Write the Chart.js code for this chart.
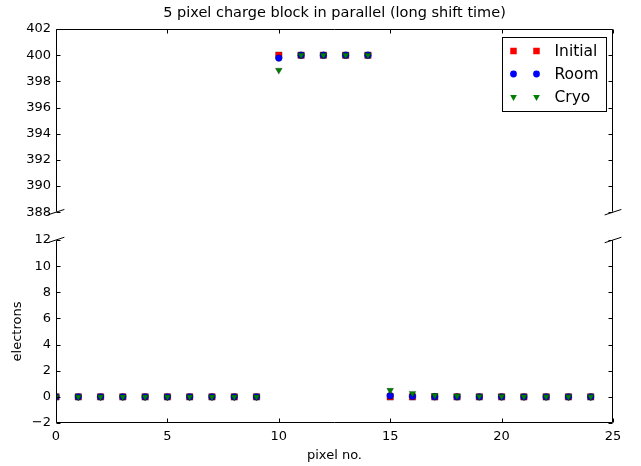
<!DOCTYPE html>
<html>
<head>
<meta charset="utf-8">
<script src="https://cdn.jsdelivr.net/npm/chart.js@4/dist/chart.umd.min.js"></script>
<style>
  html, body { margin: 0; padding: 0; background: #fff; }
  #wrap { position: relative; width: 641px; height: 466px; }
  canvas { position: absolute; left: 0; }
  #topChart { top: 0; }
  #botChart { top: 225px; }
</style>
</head>
<body>
<div id="wrap">
  <canvas id="topChart" width="641" height="225" style="width:641px;height:225px"></canvas>
  <canvas id="botChart" width="641" height="241" style="width:641px;height:241px"></canvas>
</div>
<script>
// 데이터
const pixels = [0, 1, 2, 3, 4, 5, 6, 7, 8, 9, 10, 11, 12, 13, 14, 15, 16, 17, 18, 19, 20, 21, 22, 23, 24];
const initialVals = [0, 0, 0, 0, 0, 0, 0, 0, 0, 0, 400, 400, 400, 400, 400, 0, 0, 0, 0, 0, 0, 0, 0, 0, 0];
const roomVals = [0, 0, 0, 0, 0, 0, 0, 0, 0, 0, 399.78, 400, 400, 400, 400, 0.09, 0.04, 0.01, 0, 0, 0, 0, 0, 0, 0];
const cryoVals = [0, 0, 0, 0, 0, 0, 0, 0, 0, 0, 398.85, 400, 400, 400, 400, 0.5, 0.27, 0.1, 0.06, 0.04, 0.03, 0.02, 0.01, 0.01, 0.01];
const seriesNames = ['Initial', 'Room', 'Cryo'];
const xTicks = [0, 5, 10, 15, 20, 25];
const yTopTicks = [388, 390, 392, 394, 396, 398, 400, 402];
const yBotTicks = [-2, 0, 2, 4, 6, 8, 10, 12];

const FONT = "'DejaVu Sans', sans-serif";

const pointStyles = [
    { pointStyle: 'rect', radius: 4.6, rotation: 0, color: '#ff0000' },
    { pointStyle: 'circle', radius: 3.4, rotation: 0, color: '#0000ff' },
    { pointStyle: 'triangle', radius: 3.9, rotation: 180, color: '#007f00' }
];

function makeDatasets() {
    const all = [initialVals, roomVals, cryoVals];
    return all.map(function(vals, i) {
        const st = pointStyles[i];
        return {
            label: seriesNames[i],
            data: pixels.map(function(p, j) { return { x: p, y: vals[j] }; }),
            showLine: false,
            pointStyle: st.pointStyle,
            pointRadius: st.radius,
            pointRotation: st.rotation,
            pointBackgroundColor: st.color,
            pointBorderColor: 'rgba(0,0,0,0.55)',
            pointBorderWidth: 0.5,
            order: 3 - i,
            clip: 0
        };
    });
}

// 프레임, 안쪽 눈금, 꺾임 표시
const framePlugin = {
    id: 'frame',
    afterDraw(chart, args, opts) {
        const ctx = chart.ctx;
        const a = chart.chartArea;
        const xs = chart.scales.x;
        const ys = chart.scales.y;
        const L = a.left + 0.5, R = a.right - 0.5, T = a.top + 0.5, B = a.bottom - 0.5;
        ctx.save();
        ctx.strokeStyle = '#000';
        ctx.lineWidth = 1;
        ctx.beginPath();
        if (opts.panel === 'top') {
            ctx.moveTo(L, B); ctx.lineTo(L, T); ctx.lineTo(R, T); ctx.lineTo(R, B);
        } else {
            ctx.moveTo(L, T); ctx.lineTo(L, B); ctx.lineTo(R, B); ctx.lineTo(R, T);
        }
        ctx.stroke();

        const tl = 4;
        ctx.beginPath();
        ys.ticks.forEach(function(t) {
            const y = Math.round(ys.getPixelForValue(t.value)) + 0.5;
            ctx.moveTo(L, y); ctx.lineTo(L + tl, y);
            ctx.moveTo(R, y); ctx.lineTo(R - tl, y);
        });
        xTicks.forEach(function(v) {
            const x = Math.round(xs.getPixelForValue(v)) + 0.5;
            if (opts.panel === 'top') {
                ctx.moveTo(x, T); ctx.lineTo(x, T + tl);
            } else {
                ctx.moveTo(x, B); ctx.lineTo(x, B - tl);
            }
        });
        ctx.stroke();

        // 꺾임 표시 (axes 좌표 0.015)
        const dx = 0.015 * (a.right - a.left);
        const dy = 0.015 * (a.bottom - a.top);
        const yEdge = opts.panel === 'top' ? a.bottom : a.top;
        ctx.beginPath();
        [a.left, a.right].forEach(function(x) {
            ctx.moveTo(x - dx, yEdge + dy);
            ctx.lineTo(x + dx, yEdge - dy);
        });
        ctx.stroke();
        ctx.restore();
    }
};

// 범례 (마커 2개씩)
const legendPlugin = {
    id: 'mplLegend',
    afterDraw(chart, args, opts) {
        if (!opts.show) return;
        const ctx = chart.ctx;
        const a = chart.chartArea;
        const w = 104, h = 74;
        const bx = Math.round(a.right - 7 - w) + 0.5;
        const by = Math.round(a.top + 8) + 0.5;
        ctx.save();
        ctx.fillStyle = '#fff';
        ctx.strokeStyle = '#000';
        ctx.lineWidth = 1;
        ctx.fillRect(bx, by, w, h);
        ctx.strokeRect(bx, by, w, h);
        ctx.font = '15.5px ' + FONT;
        ctx.textBaseline = 'middle';
        seriesNames.forEach(function(name, i) {
            const y = by + 13.5 + i * 23;
            const st = pointStyles[i];
            [bx + 11, bx + 34].forEach(function(x) {
                ctx.fillStyle = st.color;
                ctx.strokeStyle = st.color;
                Chart.helpers.drawPoint(ctx, {
                    pointStyle: st.pointStyle,
                    radius: st.radius,
                    rotation: st.rotation,
                    borderWidth: 0
                }, x, y);
            });
            ctx.fillStyle = '#000';
            ctx.fillText(name, bx + 52, y + 1);
        });
        ctx.restore();
    }
};

function minusSign(v) {
    return String(v).replace('-', '\u2212');
}

Chart.defaults.font.family = FONT;
Chart.defaults.color = '#000';

// 위쪽 패널
new Chart(document.getElementById('topChart'), {
    type: 'scatter',
    data: { datasets: makeDatasets() },
    options: {
        responsive: false,
        animation: false,
        events: [],
        layout: { padding: { left: 0, right: 28, top: 0, bottom: 12 } },
        plugins: {
            legend: { display: false },
            tooltip: { enabled: false },
            title: {
                display: true,
                text: '5 pixel charge block in parallel (long shift time)',
                fullSize: false,
                color: '#000',
                font: { size: 14.5, weight: 'normal', family: FONT },
                padding: { top: 4.5, bottom: 7.1 }
            },
            frame: { panel: 'top' },
            mplLegend: { show: true }
        },
        scales: {
            x: {
                type: 'linear', min: 0, max: 25, display: false,
                afterBuildTicks: function(s) { s.ticks = xTicks.map(function(v) { return { value: v }; }); }
            },
            y: {
                type: 'linear', min: 388, max: 402,
                grid: { display: false, drawTicks: false },
                border: { display: false },
                ticks: { padding: 5, font: { size: 13 }, color: '#000' },
                afterBuildTicks: function(s) { s.ticks = yTopTicks.map(function(v) { return { value: v }; }); },
                afterFit: function(s) { s.width = 56; }
            }
        }
    },
    plugins: [framePlugin, legendPlugin]
});

// 아래쪽 패널
new Chart(document.getElementById('botChart'), {
    type: 'scatter',
    data: { datasets: makeDatasets() },
    options: {
        responsive: false,
        animation: false,
        events: [],
        layout: { padding: { left: 0, right: 28, top: 15, bottom: 0 } },
        plugins: {
            legend: { display: false },
            tooltip: { enabled: false },
            frame: { panel: 'bottom' },
            mplLegend: { show: false }
        },
        scales: {
            x: {
                type: 'linear', min: 0, max: 25,
                grid: { display: false, drawTicks: false },
                border: { display: false },
                ticks: { padding: 6, font: { size: 13 }, color: '#000', maxRotation: 0 },
                title: { display: true, text: 'pixel no.', font: { size: 13 }, color: '#000', padding: { top: 0, bottom: 3 } },
                afterBuildTicks: function(s) { s.ticks = xTicks.map(function(v) { return { value: v }; }); },
                afterFit: function(s) { s.height = 43; }
            },
            y: {
                type: 'linear', min: -2, max: 12,
                grid: { display: false, drawTicks: false },
                border: { display: false },
                ticks: { padding: 5, font: { size: 13 }, color: '#000', callback: minusSign },
                title: { display: true, text: 'electrons', font: { size: 13 }, color: '#000', padding: { top: 10, bottom: 0 } },
                afterBuildTicks: function(s) { s.ticks = yBotTicks.map(function(v) { return { value: v }; }); },
                afterFit: function(s) { s.width = 56; }
            }
        }
    },
    plugins: [framePlugin, legendPlugin]
});
</script>
</body>
</html>
